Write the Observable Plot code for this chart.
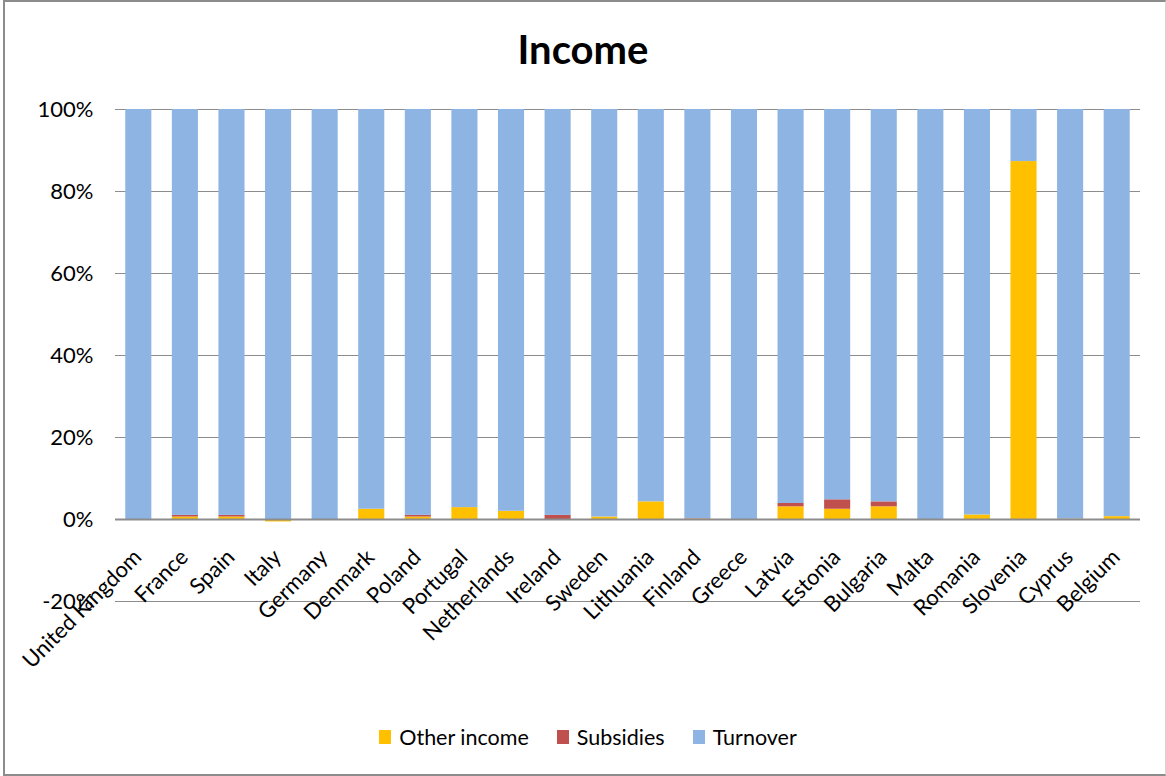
<!DOCTYPE html>
<html>
<head>
<meta charset="utf-8">
<script src="https://cdn.jsdelivr.net/npm/d3@7"></script>
<script src="https://cdn.jsdelivr.net/npm/@observablehq/plot@0.6"></script>
<style>
  html, body { margin: 0; padding: 0; background: #fff; }
  body { width: 1166px; height: 776px; position: relative; overflow: hidden; font-family: Lato, "Noto Sans", sans-serif; color: #000; }
  #frame { position: absolute; left: 3px; top: 0; width: 1163px; height: 776px; box-sizing: border-box;
           border-top: 2px solid #8c8c8c; border-left: 2px solid #8c8c8c; border-bottom: 2px solid #8c8c8c; border-right: 1px solid #d4d4d4; }
  #title { position: absolute; left: 0; top: 25px; width: 1166px; text-align: center; font-size: 40px; line-height: 48px; font-weight: 700; }
  #chart { position: absolute; left: 0; top: 70px; }
  #legend { position: absolute; left: 0; top: 724px; width: 1176px; display: flex; justify-content: center; font-size: 21.5px; line-height: 26px; }
  .item { display: flex; align-items: center; margin: 0 14px; }
  .key { width: 12px; height: 14px; margin-right: 8px; }
</style>
</head>
<body>
<div id="frame"></div>
<div id="title">Income</div>
<div id="chart"></div>
<div id="legend"></div>
<script>
const countries = ["United Kingdom", "France", "Spain", "Italy", "Germany", "Denmark", "Poland", "Portugal",
  "Netherlands", "Ireland", "Sweden", "Lithuania", "Finland", "Greece", "Latvia", "Estonia", "Bulgaria",
  "Malta", "Romania", "Slovenia", "Cyprus", "Belgium"];
const seriesNames = ["Other income", "Subsidies", "Turnover"];
const seriesColors = ["#FFC000", "#C0504D", "#8EB4E3"];
const otherIncome = [0, 0.6, 0.6, -0.6, -0.1, 2.5, 0.6, 2.9, 2.0, 0, 0.6, 4.3, 0.1, 0, 3.1, 2.5, 3.1, 0, 1.1, 87.3, 0.1, 0.7];
const subsidies   = [0, 0.4, 0.4, 0, 0, 0, 0.4, 0, 0, 1.0, 0, 0, 0.1, 0, 0.8, 2.3, 1.2, -0.2, 0, 0, 0, 0];
const turnover    = [100, 99.0, 99.0, 100, 100, 97.5, 99.0, 97.1, 98.0, 99.0, 99.4, 95.7, 99.8, 100, 96.1, 95.2, 95.7, 100, 98.9, 12.7, 99.9, 99.3];
const yTicks = [-20, 0, 20, 40, 60, 80, 100];

const seriesValues = [otherIncome, subsidies, turnover];
const rows = [];
countries.forEach((c, i) => {
  seriesNames.forEach((s, k) => rows.push({country: c, series: s, value: seriesValues[k][i]}));
});

const chart = Plot.plot({
  width: 1166,
  height: 640,
  marginLeft: 115,
  marginRight: 26,
  marginTop: 39,
  marginBottom: 109,
  style: {fontFamily: "Lato, 'Noto Sans', sans-serif", fontSize: "22px", color: "#000", background: "transparent", overflow: "visible"},
  x: {domain: countries, paddingInner: 0.44, paddingOuter: 0.22, round: false, axis: null},
  y: {domain: [-20, 100], axis: null},
  color: {domain: seriesNames, range: seriesColors},
  marks: [
    Plot.ruleY(yTicks.filter(d => d !== 0), {stroke: "#8c8c8c", strokeWidth: 1}),
    Plot.barY(rows, {x: "country", y: "value", fill: "series"}),
    Plot.ruleY([0], {stroke: "#8c8c8c", strokeWidth: 2}),
    Plot.axisY({ticks: yTicks, tickFormat: d => d + "%", tickSize: 0, tickPadding: 22, fontSize: 22, fill: "#000", label: null}),
    Plot.text(countries, {x: d => d, y: d => 0, text: d => d, rotate: -45, textAnchor: "end", dx: -1, dy: 34, fontSize: 22, fill: "#000"})
  ]
});
document.getElementById("chart").appendChild(chart);

const legend = document.getElementById("legend");
seriesNames.forEach((s, k) => {
  const item = document.createElement("div");
  item.className = "item";
  const key = document.createElement("div");
  key.className = "key";
  key.style.background = seriesColors[k];
  const label = document.createElement("span");
  label.textContent = s;
  item.appendChild(key);
  item.appendChild(label);
  legend.appendChild(item);
});
</script>
</body>
</html>
